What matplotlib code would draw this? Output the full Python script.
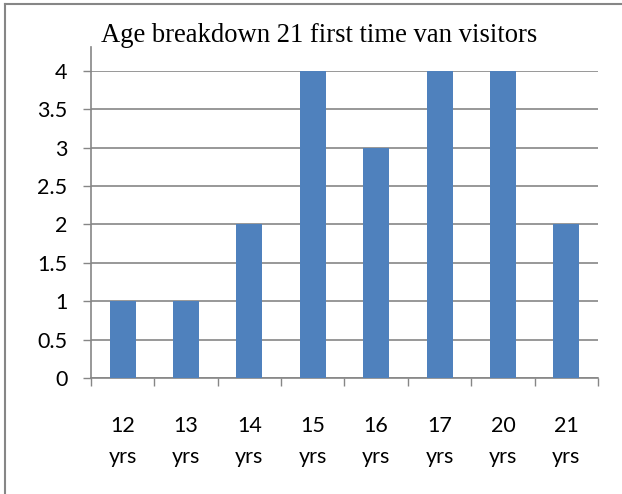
import matplotlib
matplotlib.use("Agg")
import matplotlib.pyplot as plt
from matplotlib.lines import Line2D

# Age breakdown of 21 first-time van visitors
AGES = ["12", "13", "14", "15", "16", "17", "20", "21"]
COUNTS = [1, 1, 2, 4, 3, 4, 4, 2]
Y_TICKS = [0, 0.5, 1, 1.5, 2, 2.5, 3, 3.5, 4]
Y_TICK_LABELS = ["0", "0.5", "1", "1.5", "2", "2.5", "3", "3.5", "4"]

BAR_COLOR = "#4F81BD"
GREY = "#868686"
LABEL_FONT = "Lato"


def main() -> None:
    fig = plt.figure(figsize=(6.22, 4.94), dpi=100)
    ax = fig.add_axes([0.1463, 0.2348, 0.815, 0.6215])

    x = list(range(len(AGES)))
    ax.bar(x, COUNTS, width=0.41, color=BAR_COLOR, zorder=3)

    ax.set_xlim(-0.5, len(AGES) - 0.5)
    ax.set_ylim(0, 4)

    # y axis
    ax.set_yticks(Y_TICKS)
    ax.set_yticklabels(Y_TICK_LABELS, fontsize=15.5, family=LABEL_FONT)
    ax.tick_params(axis="y", length=6, width=1, color=GREY, pad=11)
    ax.yaxis.grid(True, color=GREY, linewidth=1.2, zorder=0)

    # x axis: labels at centres, ticks at category boundaries
    ax.set_xticks(x)
    ax.set_xticklabels([f"{a}\nyrs" for a in AGES], fontsize=15.5,
                       family=LABEL_FONT, linespacing=1.72)
    ax.tick_params(axis="x", which="major", length=0, pad=27)
    ax.set_xticks([i - 0.5 for i in range(len(AGES) + 1)], minor=True)
    ax.tick_params(axis="x", which="minor", length=6, width=1, color=GREY,
                   direction="out")

    for side in ("top", "right"):
        ax.spines[side].set_visible(False)
    for side in ("left", "bottom"):
        ax.spines[side].set_color(GREY)
        ax.spines[side].set_linewidth(1.2)
    ax.spines["left"].set_bounds(0, 4.31)

    fig.text(0.5137, 0.915, "Age breakdown 21 first time van visitors",
             ha="center", va="baseline", fontsize=19.2, family="Liberation Serif")

    # chart frame (left and top edges visible)
    fig.add_artist(Line2D([0.0085, 0.0085], [0, 0.991], transform=fig.transFigure,
                          color=GREY, linewidth=1.5))
    fig.add_artist(Line2D([0.0085, 1.0], [0.991, 0.991], transform=fig.transFigure,
                          color=GREY, linewidth=1.5))

    fig.savefig("out.png", dpi=100)
    plt.close(fig)


if __name__ == "__main__":
    main()
